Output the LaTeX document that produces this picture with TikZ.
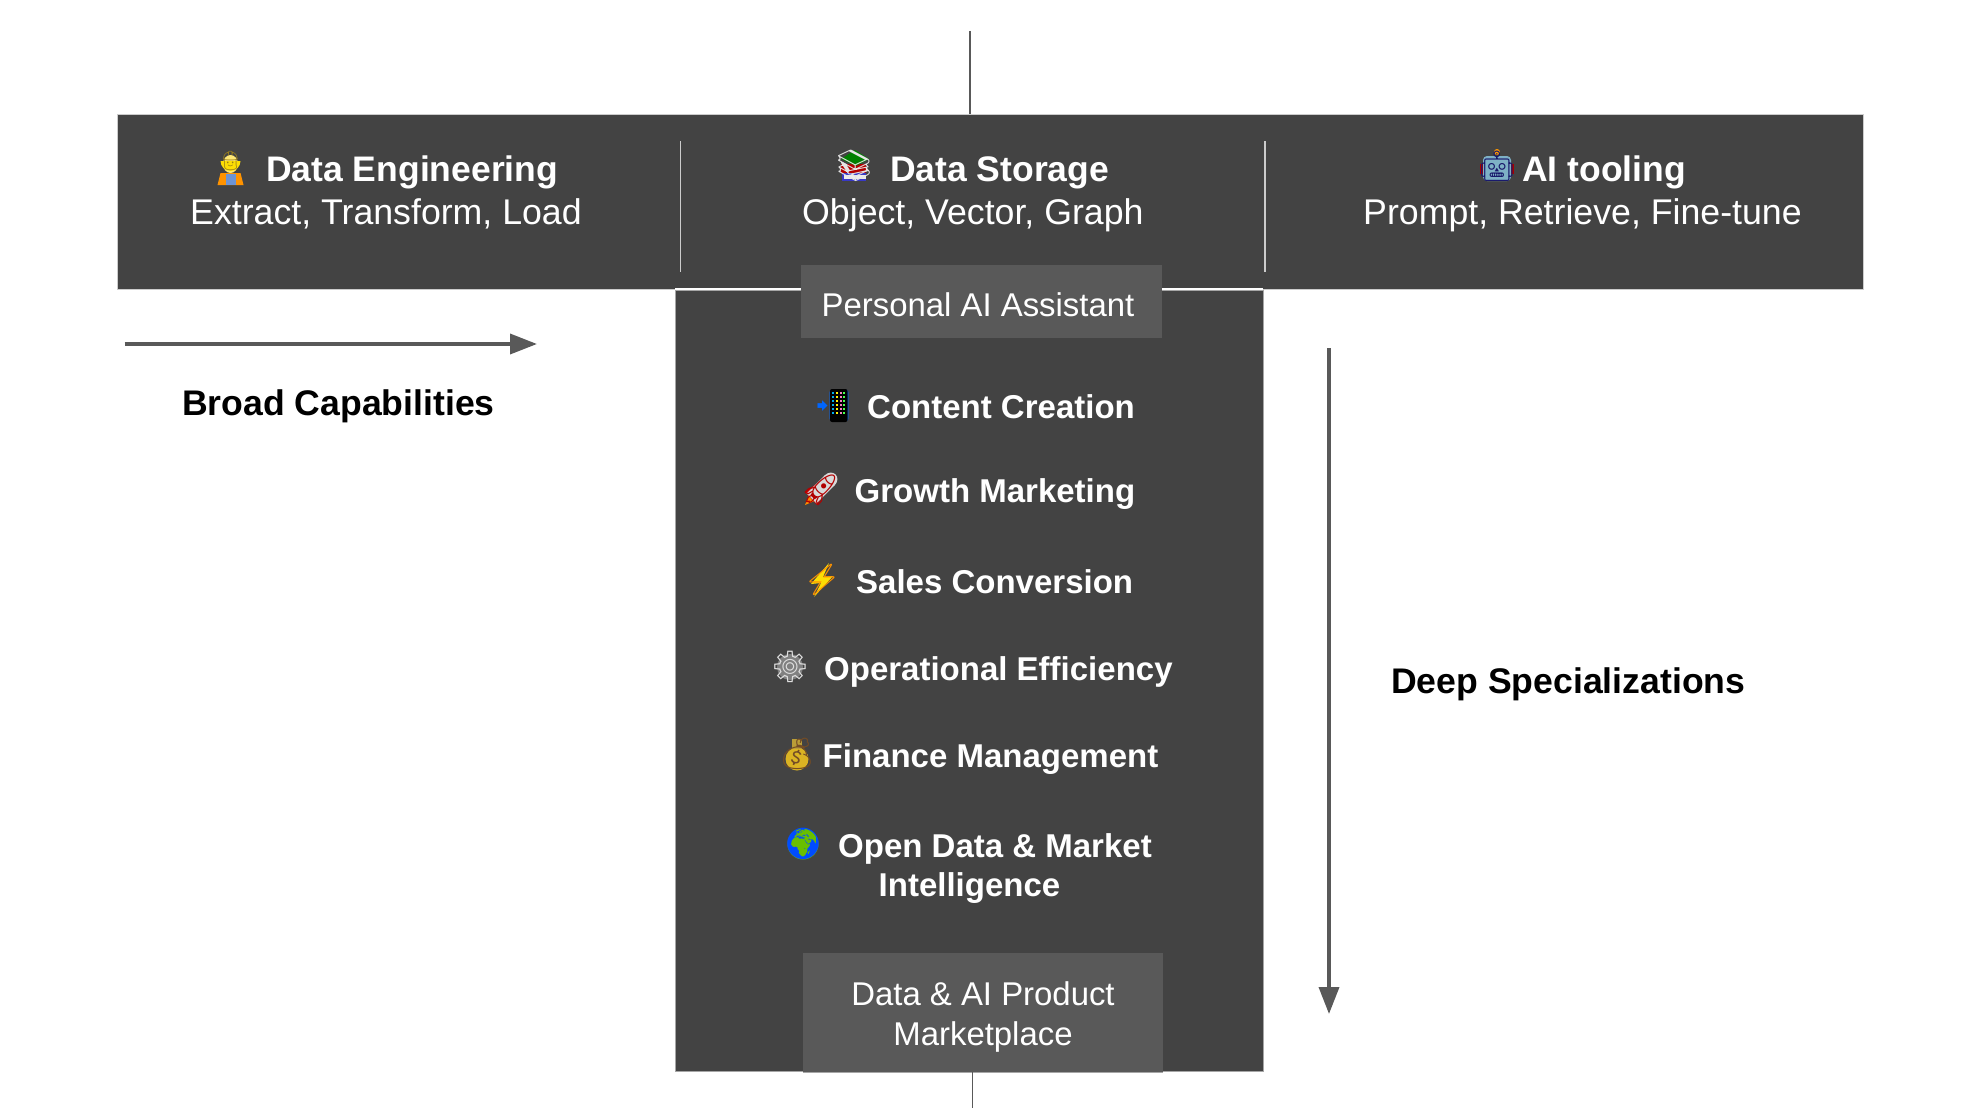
\documentclass[tikz,border=0pt]{standalone}
\usepackage{fontspec}
\setmainfont{Liberation Sans}
\newfontfamily\emo{Noto Emoji}
\usetikzlibrary{arrows.meta}
\definecolor{panel}{HTML}{434343}
\definecolor{tab}{HTML}{595959}
\definecolor{rim}{HTML}{CCCCCC}
\tikzset{
  panelbox/.style={fill=panel,draw=#1,line width=1.2pt,anchor=north west,inner sep=0pt},
  tabbox/.style={fill=tab,draw=none,anchor=north west,inner sep=0pt},
  heading/.style={anchor=base west,inner sep=0pt,text=white,font=\bfseries\fontsize{35.5}{40}\selectfont},
  subline/.style={anchor=base west,inner sep=0pt,text=white,font=\fontsize{35.7}{40}\selectfont},
  item/.style={anchor=base west,inner sep=0pt,text=white,font=\bfseries\fontsize{33}{38}\selectfont},
  tabtext/.style={anchor=base,inner sep=0pt,text=white,font=\fontsize{32.9}{38}\selectfont},
  caption/.style={anchor=base west,inner sep=0pt,text=black,font=\bfseries\fontsize{35.6}{40}\selectfont},
  icon/.style 2 args={inner sep=0pt,text=#1,font=\emo\fontsize{#2}{#2}\selectfont},
  stub/.style={draw=tab,line width=1.3pt},
  divider/.style={draw=rim,line width=1.3pt},
  longarrow/.style={draw=tab,line width=3.6pt,-{Triangle[length=27pt,width=20pt,fill=tab]}},
}
\begin{document}
\begin{tikzpicture}[x=1pt,y=-1pt]
\useasboundingbox (0,0) rectangle (1976,1108);
% panels
\node[panelbox=rim,minimum width=1746pt,minimum height=175pt] (bar) at (117,114) {};
\node[panelbox=gray!70,minimum width=588pt,minimum height=781pt] (column) at (675,290) {};
\draw[white,line width=2pt] (column.north west) ++(0,-0.8) -- ++(588,0);
\node[tabbox,minimum width=361pt,minimum height=73pt] (assistant) at (801,265) {};
\node[tabbox,minimum width=360pt,minimum height=119pt] (market) at (803,953) {};
\draw[gray!70,line width=1pt] (market.south west) -- (market.south east);
% stubs
\coordinate (topend) at (970,31);
\coordinate (botend) at (972.5,1108);
\draw[stub] (topend) -- (topend |- bar.north);
\draw[stub] (botend) -- (botend |- market.south);
% dividers
\coordinate (d1a) at (680.5,141); \coordinate (d1b) at (680.5,272);
\coordinate (d2a) at (1265,141);  \coordinate (d2b) at (1265,272);
\draw[divider] (d1a) -- (d1b);
\draw[divider] (d2a) -- (d2b);
% arrows
\coordinate (ha) at (124.5,344); \coordinate (hb) at (537,344);
\coordinate (va) at (1329,348);  \coordinate (vb) at (1329,1014);
\draw[longarrow] (ha) -- (hb);
\draw[longarrow] (va) -- (vb);
% worker
\begin{scope}[shift={(230.5,167)}]
  \fill[orange!85!yellow] (-13,18) -- (-10,6) -- (10,6) -- (13,18) -- cycle;
  \fill[cyan!45!blue!60!white] (-5,7) rectangle (5,18);
  \fill[orange!35!yellow!55!white] (0,-3) ellipse[x radius=7.5,y radius=9];
  \fill[yellow!80!orange] (-10,-6) arc[start angle=180,end angle=0,radius=10] -- cycle;
\end{scope}
\node[icon={brown!60!yellow!70!black}{19}] (i1) at (230.5,161) {\symbol{"1F477}};
% books
\begin{scope}[shift={(854,166)}]
  \fill[blue!55!gray] (-12,7) rectangle (12,15);
  \fill[white!85!gray] (-10,9) rectangle (12,13);
  \fill[red!70!black] (-13,-2) rectangle (12,7);
  \fill[green!50!black] (-13,-7) -- (1,-16) -- (15,-7) -- (2,0) -- cycle;
\end{scope}
\node[icon={white!80!gray}{31}] (i2) at (854,166) {\symbol{"1F4DA}};
% robot
\begin{scope}[shift={(1497,166)}]
  \fill[red!65!black] (-17,-2) rectangle (17,8);
  \fill[orange!80!yellow] (0,-14) circle[radius=3];
  \fill[cyan!45!gray!85!white,rounded corners=4pt] (-14,-10) rectangle (14,15);
\end{scope}
\node[icon={black!60!blue!80!gray}{30}] (i3) at (1497,166) {\symbol{"1F916}};
% phone
\node[icon={blue!60!cyan}{31}] (e1) at (833,406) {\symbol{"1F4F2}};
\begin{scope}[shift={(833,406)}]
  \fill[black,rounded corners=2pt] (-3,-17) rectangle (14.5,16);
  \foreach \r [count=\k] in {-13,-9,-5,-1,3,7} \foreach \c/\t in {0/cyan,4/yellow,8/magenta!50!white,11/green!70!white}
    \fill[\t] (\c-0.8,\r-1) rectangle ++(2,2);
\end{scope}
% rocket
\begin{scope}[shift={(820,490)}]
  \fill[orange!90!yellow] (-15,15) -- (-10,3) -- (-3,10) -- cycle;
  \fill[red!80!black] (-15,2) -- (-4,-6) -- (5,3) -- (-3,15) -- cycle;
  \fill[gray!30!white,rotate=45] (-12,-7) rectangle (14,7);
  \fill[gray!30!white,rotate=45] (14,0) ellipse[x radius=8,y radius=7];
\end{scope}
\node[icon={red!70!black}{31}] (e2) at (820,490) {\symbol{"1F680}};
% bolt
\begin{scope}[shift={(822,580)}]
  \fill[yellow!80!orange] (7,-17) -- (-11,4) -- (-1,3) -- (-8,17) -- (11,-4) -- (1,-3) -- cycle;
\end{scope}
\node[icon={orange!85!yellow}{31}] (e3) at (822,580) {\symbol{"26A1}};
% gear
\begin{scope}[shift={(790,667)}]
  \fill[gray] (0,0) circle[radius=13];
\end{scope}
\node[icon={white!75!gray}{31}] (e4) at (790,667) {\symbol{"2699}};
% money
\begin{scope}[shift={(797,754)}]
  \fill[yellow!60!orange!85!black] (0,5) circle[radius=11.5];
  \fill[yellow!60!orange!70!black] (-5,-15) rectangle (5,-5);
\end{scope}
\node[icon={brown!60!black}{31}] (e5) at (797,754) {\symbol{"1F4B0}};
% globe
\begin{scope}[shift={(803,844)}]
  \fill[green!45!yellow!75!black] (0,0) circle[radius=15.5];
\end{scope}
\node[icon={blue!70!cyan}{31}] (e6) at (803,844) {\symbol{"1F30D}};
% top headings
\node[heading] (h1) at (266,181) {Data Engineering};
\node[subline] (s1) at (190,224) {Extract, Transform, Load};
\node[heading] (h2) at (890,181) {Data Storage};
\node[subline] (s2) at (802,224) {Object, Vector, Graph};
\node[heading] (h3) at (1522,181) {AI tooling};
\node[subline] (s3) at (1363,224) {Prompt, Retrieve, Fine-tune};
% tabs
\node[tabtext] (t1) at (978,316) {Personal AI Assistant};
\node[tabtext] (t2) at (983,1005) {Data \& AI Product};
\node[tabtext] (t3) at (983,1045) {Marketplace};
% items
\node[item] (l1) at (867,418) {Content Creation};
\node[item] (l2) at (854.5,502) {Growth Marketing};
\node[item] (l3) at (856,593) {Sales Conversion};
\node[item] (l4) at (824,680) {Operational Efficiency};
\node[item] (l5) at (822.5,767) {Finance Management};
\node[item] (l6) at (838,857) {Open Data \& Market};
\node[item] (l7) at (878.5,896) {Intelligence};
% captions
\node[caption] (c1) at (182,415) {Broad Capabilities};
\node[caption] (c2) at (1391,693) {Deep Specializations};
\end{tikzpicture}
\end{document}
